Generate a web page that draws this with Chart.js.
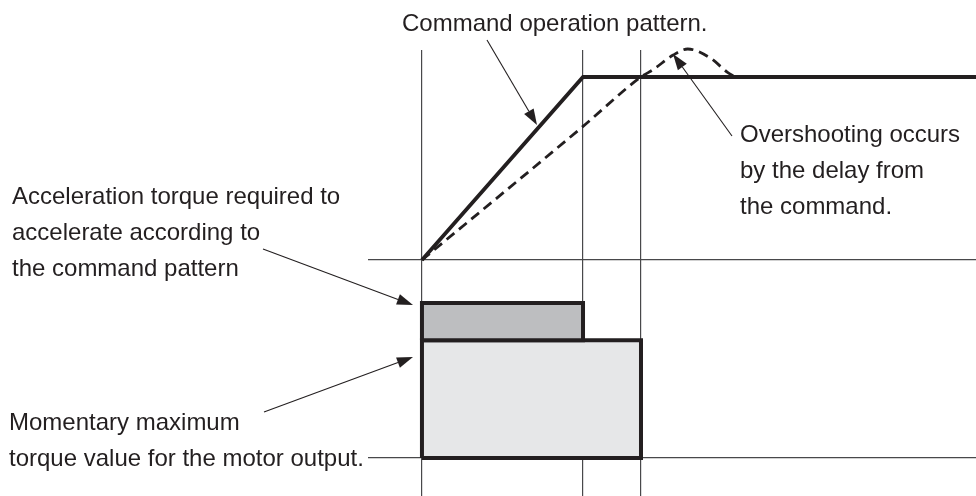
<!DOCTYPE html>
<html lang="en">
<head>
<meta charset="UTF-8">
<title>Command operation pattern and overshoot</title>
<script src="https://cdn.jsdelivr.net/npm/chart.js"></script>
<style>
  html, body { margin: 0; padding: 0; background: #fff; }
  .wrap { width: 976px; height: 496px; }
</style>
</head>
<body>
<div class="wrap"><canvas id="diagram"></canvas></div>
<script>
// time in ms: 0 = command start, 100 = end of commanded accel, 136 = end of real accel
const phaseTicks = [0, 100, 136];
const commandTime = [0, 100, 344];
const commandSpeed = [0, 100, 100];
const responseTime = [0, 100, 136, 143.5, 156, 165, 179, 189.5, 194.5];
const responseSpeed = [0, 73, 100, 104, 112, 115.3, 110.4, 102.7, 100];
// torque in % of what the command pattern needs
const requiredTorque = 100;
const motorMaxTorque = 76;

const ink = '#231f20';
const gridInk = '#48484a';

function pts(xs, ys) {
    return xs.map((x, i) => ({ x: x, y: ys[i] }));
}

function rect(x0, x1, y0, y1) {
    return [{x: x0, y: y0}, {x: x0, y: y1}, {x: x1, y: y1}, {x: x1, y: y0}, {x: x0, y: y0}];
}

function arrow(ctx, x1, y1, x2, y2) {
    const a = Math.atan2(y2 - y1, x2 - x1);
    const len = 16, half = 5.5;
    const bx = x2 - len * Math.cos(a), by = y2 - len * Math.sin(a);
    ctx.beginPath();
    ctx.moveTo(x1, y1);
    ctx.lineTo(bx, by);
    ctx.stroke();
    ctx.beginPath();
    ctx.moveTo(x2, y2);
    ctx.lineTo(bx + half * Math.sin(a), by - half * Math.cos(a));
    ctx.lineTo(bx - half * Math.sin(a), by + half * Math.cos(a));
    ctx.closePath();
    ctx.fill();
}

const labels = [
    { x: 402, y: 31, lines: ['Command operation pattern.'] },
    { x: 740, y: 142, lines: ['Overshooting occurs', 'by the delay from', 'the command.'] },
    { x: 12, y: 204, lines: ['Acceleration torque required to', 'accelerate according to', 'the command pattern'] },
    { x: 9, y: 430, lines: ['Momentary maximum', 'torque value for the motor output.'] }
];

const notes = {
    id: 'notes',
    afterDraw(chart) {
        const ctx = chart.ctx;
        ctx.save();
        ctx.fillStyle = ink;
        ctx.strokeStyle = ink;
        ctx.lineWidth = 1.1;
        ctx.font = '24px "Liberation Sans", Arial, sans-serif';
        ctx.textBaseline = 'alphabetic';
        labels.forEach(l => {
            l.lines.forEach((s, i) => ctx.fillText(s, l.x, l.y + i * 36));
        });
        arrow(ctx, 487, 40, 537, 125);
        arrow(ctx, 732, 136, 673, 54);
        arrow(ctx, 263, 249, 413, 305);
        arrow(ctx, 264, 412, 413, 357);
        ctx.restore();
    }
};

const onlyTicks = (values) => (scale) => {
    scale.ticks = values.map(v => ({ value: v }));
};

new Chart(document.getElementById('diagram'), {
    type: 'line',
    data: {
        datasets: [
            {
                label: 'Command operation pattern',
                data: pts(commandTime, commandSpeed),
                yAxisID: 'y',
                borderColor: ink,
                borderWidth: 3.8,
                pointRadius: 0,
                fill: false,
                order: 0
            },
            {
                label: 'Actual motion',
                data: pts(responseTime, responseSpeed),
                yAxisID: 'y',
                borderColor: ink,
                borderWidth: 2.8,
                borderDash: [10, 6],
                cubicInterpolationMode: 'monotone',
                pointRadius: 0,
                fill: false,
                clip: false,
                order: 1
            },
            {
                label: 'Acceleration torque required',
                data: rect(phaseTicks[0], phaseTicks[1], motorMaxTorque, requiredTorque),
                yAxisID: 'y2',
                borderColor: ink,
                backgroundColor: '#bdbec0',
                borderWidth: 4,
                borderJoinStyle: 'miter',
                pointRadius: 0,
                fill: 'shape',
                order: 2
            },
            {
                label: 'Momentary maximum torque',
                data: rect(phaseTicks[0], phaseTicks[2], 0, motorMaxTorque),
                yAxisID: 'y2',
                borderColor: ink,
                backgroundColor: '#e6e7e8',
                borderWidth: 4,
                borderJoinStyle: 'miter',
                pointRadius: 0,
                fill: 'shape',
                order: 3
            }
        ]
    },
    options: {
        responsive: true,
        maintainAspectRatio: false,
        animation: false,
        events: [],
        layout: { padding: { left: 368, right: 0, top: 50, bottom: 0 } },
        plugins: {
            legend: { display: false },
            tooltip: { enabled: false }
        },
        scales: {
            x: {
                type: 'linear',
                min: -33.5,
                max: 344,
                z: 1,
                afterBuildTicks: onlyTicks(phaseTicks),
                ticks: { display: false },
                grid: { color: gridInk, lineWidth: 1.2, drawTicks: false },
                border: { display: false }
            },
            y: {
                position: 'left',
                min: -129,
                max: 114.75,
                afterBuildTicks: onlyTicks([0]),
                ticks: { display: false },
                grid: { color: gridInk, lineWidth: 1.2, drawTicks: false },
                border: { display: false }
            },
            y2: {
                position: 'left',
                min: -24.5,
                max: 263.2,
                afterBuildTicks: onlyTicks([0]),
                ticks: { display: false },
                grid: { color: gridInk, lineWidth: 1.2, drawTicks: false },
                border: { display: false }
            }
        }
    },
    plugins: [notes]
});
</script>
</body>
</html>
